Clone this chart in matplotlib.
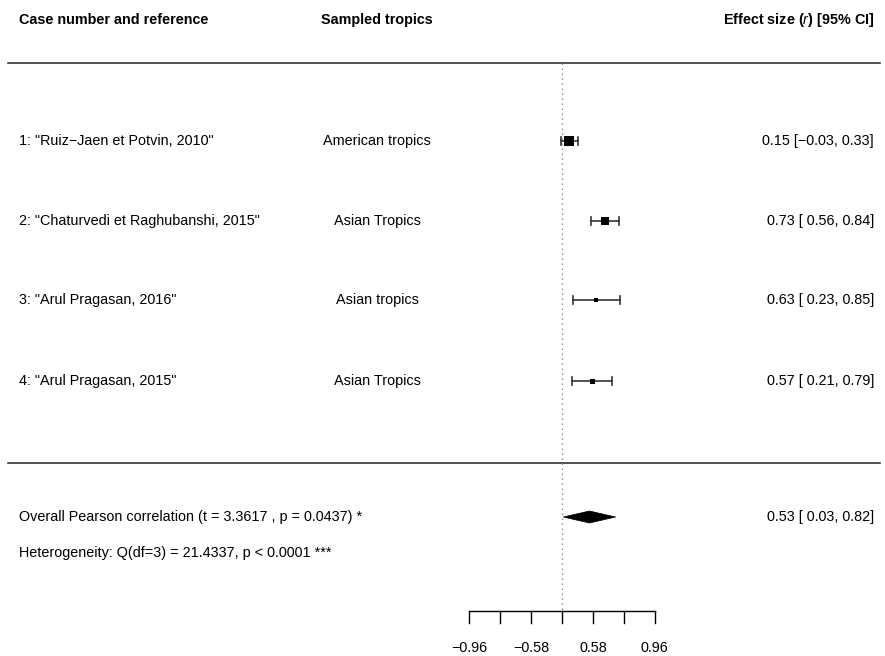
import numpy as np
import matplotlib
matplotlib.use("Agg")
import matplotlib.pyplot as plt
from matplotlib.patches import Polygon, Rectangle

# data (correlation scale)
studies = ['1: "Ruiz\u2212Jaen et Potvin, 2010"',
           '2: "Chaturvedi et Raghubanshi, 2015"',
           '3: "Arul Pragasan, 2016"',
           '4: "Arul Pragasan, 2015"']
tropics = ["American tropics", "Asian Tropics", "Asian tropics", "Asian Tropics"]
r_est = [0.15, 0.73, 0.63, 0.57]
r_lo = [-0.03, 0.56, 0.23, 0.21]
r_hi = [0.33, 0.84, 0.85, 0.79]
box_px = [10, 8, 4, 5]  # marker size ~ weight

overall_est, overall_lo, overall_hi = 0.53, 0.03, 0.82
overall_text = "Overall Pearson correlation (t = 3.3617 , p = 0.0437) *"
het_text = "Heterogeneity: Q(df=3) = 21.4337, p < 0.0001 ***"

tick_z = [-2, -4 / 3, -2 / 3, 0, 2 / 3, 4 / 3, 2]
tick_labels = ["\u22120.96", "", "\u22120.58", "", "0.58", "", "0.96"]

plt.rcParams['font.family'] = ['Liberation Sans', 'DejaVu Sans']
plt.rcParams['mathtext.fontset'] = 'custom'
plt.rcParams['mathtext.rm'] = 'Liberation Sans'
plt.rcParams['mathtext.it'] = 'Liberation Sans:italic'
plt.rcParams['mathtext.bf'] = 'Liberation Sans:bold'


def fmt(v):
    return ("%5.2f" % v).replace("-", "\u2212")


W, H = 885, 656
fig = plt.figure(figsize=(W / 100, H / 100), dpi=100)
ax = fig.add_axes([0, 0, 1, 1])
ax.set_axis_off()

# horizontal scale: Fisher z, 0 at pixel 562, 46.4 px per unit
px_per_z = 46.4
x0 = 562
ax.set_xlim(-x0 / px_per_z, (W - x0) / px_per_z)
ax.set_ylim(H, 0)


def px(xp):
    return (xp - x0) / px_per_z


row_y = [141, 221, 300, 381]
y_header = 20
y_top_line = 63
y_mid_line = 463
y_overall = 517
y_het = 553
y_axis = 611

fs = 10.35
xl = 19
xr = 874
xc = 377
# header
ax.text(px(xl), y_header, "Case number and reference", fontsize=fs, fontweight='bold',
        ha='left', va='center')
ax.text(px(xc), y_header, "Sampled tropics", fontsize=fs, fontweight='bold',
        ha='center', va='center')
ax.text(px(xr), y_header, "Effect size ($\\mathit{r}$) [95% CI]", fontsize=fs, fontweight='bold',
        ha='right', va='center')

# separator lines
ax.plot([px(8), px(880)], [y_top_line, y_top_line], color='#222222', lw=1.1)
ax.plot([px(8), px(880)], [y_mid_line, y_mid_line], color='#222222', lw=1.1)

# reference line at 0
ax.plot([0, 0], [y_top_line, y_axis], color='#888888', lw=1.0, ls=(0, (1, 2.6)))

# study rows
for i in range(len(studies)):
    y = row_y[i]
    z = np.arctanh(r_est[i])
    zl = np.arctanh(r_lo[i])
    zh = np.arctanh(r_hi[i])
    ax.plot([zl, zh], [y, y], color='#333333', lw=1.2)
    for ze in (zl, zh):
        ax.plot([ze, ze], [y - 4, y + 4], color='#333333', lw=1.2)
    s = box_px[i]
    ax.add_patch(Rectangle((z - s / 2 / px_per_z, y - s / 2), s / px_per_z, s,
                           facecolor='black', edgecolor='none', zorder=3))
    ax.text(px(xl), y, studies[i], fontsize=fs, ha='left', va='center')
    ax.text(px(xc), y, tropics[i], fontsize=fs, ha='center', va='center')
    ax.text(px(xr), y, "%.2f [%s, %.2f]" % (r_est[i], fmt(r_lo[i]), r_hi[i]),
            fontsize=fs, ha='right', va='center')

# overall diamond
zo = np.arctanh(overall_est)
zol = np.arctanh(overall_lo)
zoh = np.arctanh(overall_hi)
ax.add_patch(Polygon([(zol, y_overall), (zo, y_overall - 6), (zoh, y_overall), (zo, y_overall + 6)],
                     closed=True, facecolor='black', edgecolor='black', lw=0.5))
ax.text(px(xl), y_overall, overall_text, fontsize=fs, ha='left', va='center')
ax.text(px(xr), y_overall, "%.2f [%s, %.2f]" % (overall_est, fmt(overall_lo), overall_hi),
        fontsize=fs, ha='right', va='center')
ax.text(px(xl), y_het, het_text, fontsize=fs, ha='left', va='center')

# x axis
ax.plot([tick_z[0], tick_z[-1]], [y_axis, y_axis], color='black', lw=1.0)
for t, lab in zip(tick_z, tick_labels):
    ax.plot([t, t], [y_axis, y_axis + 12], color='black', lw=1.0)
    if lab:
        ax.text(t, 648, lab, fontsize=fs, ha='center', va='center')

fig.savefig("out.png", dpi=100)
